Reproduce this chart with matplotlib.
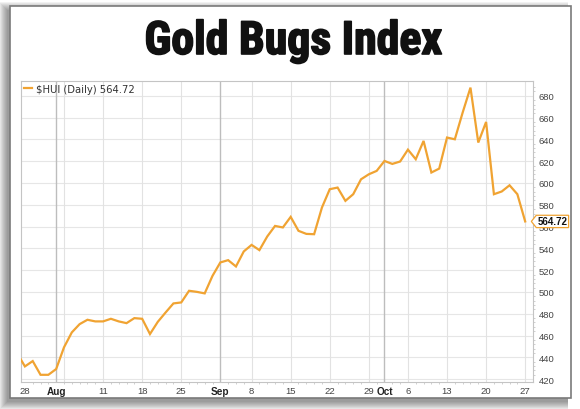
import matplotlib
matplotlib.use("Agg")
import matplotlib.pyplot as plt
import matplotlib.patheffects as pe
import matplotlib.transforms as mtransforms
from matplotlib.patches import Rectangle
from matplotlib.path import Path
import pandas as pd

W, H = 580, 410

# trading days Jul 25 .. Oct 27 (Labor Day closed)
dates = pd.bdate_range("2014-07-25", "2014-10-27").drop(pd.Timestamp("2014-09-01"))
hui_close = [443.9, 431.7, 436.6, 424.0, 424.0, 429.3, 449.2, 462.9, 470.5, 474.5,
             473.0, 473.0, 475.4, 473.0, 471.4, 476.0, 475.4, 461.4, 472.6, 481.2,
             489.5, 490.4, 501.1, 500.1, 498.7, 514.8, 527.1, 529.2, 523.4, 537.2,
             543.2, 538.4, 550.9, 560.6, 559.2, 568.9, 556.1, 553.3, 553.0, 577.5,
             594.3, 595.8, 583.6, 589.7, 603.4, 608.0, 611.1, 620.2, 617.5, 619.7,
             630.6, 621.8, 638.6, 609.6, 613.2, 641.7, 640.1, 664.6, 687.5, 637.1,
             656.0, 589.7, 592.2, 597.9, 589.7, 564.72]

tick_dates = ["2014-07-28", "2014-08-01", "2014-08-11", "2014-08-18", "2014-08-25",
              "2014-09-02", "2014-09-08", "2014-09-15", "2014-09-22", "2014-09-29",
              "2014-10-01", "2014-10-06", "2014-10-13", "2014-10-20", "2014-10-27"]
tick_labels = ["28", "Aug", "11", "18", "25", "Sep", "8", "15", "22", "29",
               "Oct", "6", "13", "20", "27"]
month_labels = ["Aug", "Sep", "Oct"]
week_lines = ["2014-08-04", "2014-08-11", "2014-08-18", "2014-08-25", "2014-09-08",
              "2014-09-15", "2014-09-22", "2014-09-29", "2014-10-06", "2014-10-13",
              "2014-10-20", "2014-10-27"]
month_lines = ["2014-08-01", "2014-09-02", "2014-10-01"]
y_ticks = list(range(420, 681, 20))

LINE = "#f0a332"

# x axis is trading-day index, Jul 28 = 0
pos = {d: i - 1 for i, d in enumerate(dates)}
xs = [pos[d] for d in dates]


def px(d):
    return pos[pd.Timestamp(d)]


fig = plt.figure(figsize=(W / 100, H / 100), dpi=100)
fig.patch.set_facecolor("white")

# card with soft shadow (down-left)
cx0, cy_top, cx1, cy_bot = 9.5, 7, 571, 399
for i in range(9):
    grow = i * 1.0
    fig.patches.append(Rectangle(((cx0 - 3 - grow) / W, (H - cy_bot - 4 - grow) / H),
                                 (cx1 - cx0 + grow) / W, (cy_bot - cy_top + 2 * grow) / H,
                                 transform=fig.transFigure, facecolor="black",
                                 edgecolor="none", alpha=0.05, zorder=0))
fig.patches.append(Rectangle((cx0 / W, (H - cy_bot) / H), (cx1 - cx0) / W, (cy_bot - cy_top) / H,
                             transform=fig.transFigure, facecolor="white",
                             edgecolor="#7a7a7a", lw=1.2, zorder=1))

fig.text(293.5 / W, 1 - 55 / H, "Gold Bugs Index", ha="center", va="baseline",
         fontsize=33, fontweight="bold", color="#111111",
         family=["Roboto Condensed", "DejaVu Sans"],
         path_effects=[pe.withStroke(linewidth=1.2, foreground="#111111")], zorder=3)

ax = fig.add_axes([21 / W, 1 - 383 / H, 512 / W, 300.7 / H], zorder=2)
ax.set_facecolor("white")
ax.set_xlim(-0.5, 65.0)
ax.set_ylim(417.4, 693.3)

for v in y_ticks:
    ax.axhline(v, color="#e6e6e6", lw=0.8, zorder=0)
for d in week_lines:
    ax.axvline(px(d), color="#e2e2e2", lw=0.8, zorder=0)
for d in month_lines:
    ax.axvline(px(d), color="#bdbdbd", lw=1.0, zorder=0)

ax.plot(xs, hui_close, color=LINE, lw=1.6, solid_joinstyle="miter",
        label=f"\\$HUI (Daily) {hui_close[-1]:.2f}", zorder=3)

for s in ax.spines.values():
    s.set_color("#c4c4c4")
    s.set_linewidth(0.8)

ax.yaxis.tick_right()
ax.set_yticks(y_ticks)
ax.set_yticklabels([str(v) for v in y_ticks], family=["Liberation Sans", "DejaVu Sans"])
ax.set_yticks(range(420, 692, 4), minor=True)
ax.tick_params(axis="y", which="major", length=0, pad=4, labelsize=6.8, labelcolor="#444444")
ax.tick_params(axis="y", which="minor", length=1.5, color="#c8c8c8", right=True, left=False)

ax.set_xticks([px(d) for d in tick_dates])
ax.set_xticklabels(tick_labels, family=["Liberation Sans", "DejaVu Sans"])
ax.set_xticks(xs[1:], minor=True)
ax.tick_params(axis="x", which="major", length=0, pad=3, labelsize=6.8, labelcolor="#444444")
ax.tick_params(axis="x", which="minor", length=1.5, color="#c8c8c8")
for t in ax.get_xticklabels():
    if t.get_text() in month_labels:
        t.set_fontweight("bold")
        t.set_fontsize(7.2)
        t.set_color("#222222")

leg = ax.legend(loc="upper left", frameon=False, handlelength=0.85, handletextpad=0.35,
                borderpad=0.15, borderaxespad=0.1,
                prop={"family": "DejaVu Sans", "size": 7.2})
for t in leg.get_texts():
    t.set_color("#333333")


def tag_box(x0, y0, width, height, mutation_size):
    pad = mutation_size * 0.12
    x0 -= pad
    y0 -= pad
    width += 2 * pad
    height += 2 * pad
    tip = height * 0.4
    verts = [(x0 - tip, y0 + height / 2), (x0, y0 + height), (x0 + width, y0 + height),
             (x0 + width, y0), (x0, y0), (x0 - tip, y0 + height / 2)]
    return Path(verts, closed=True)


ax.annotate(f"{hui_close[-1]:.2f}", xy=(1, hui_close[-1]),
            xycoords=mtransforms.blended_transform_factory(ax.transAxes, ax.transData),
            xytext=(3.2, 0), textcoords="offset points", ha="left", va="center",
            fontsize=7, fontweight="bold", color="#111111",
            family=["Liberation Sans", "DejaVu Sans"],
            bbox=dict(boxstyle=tag_box, fc="white", ec=LINE, lw=0.9),
            annotation_clip=False, zorder=5)

fig.savefig("out.png", dpi=100, facecolor=fig.get_facecolor())
